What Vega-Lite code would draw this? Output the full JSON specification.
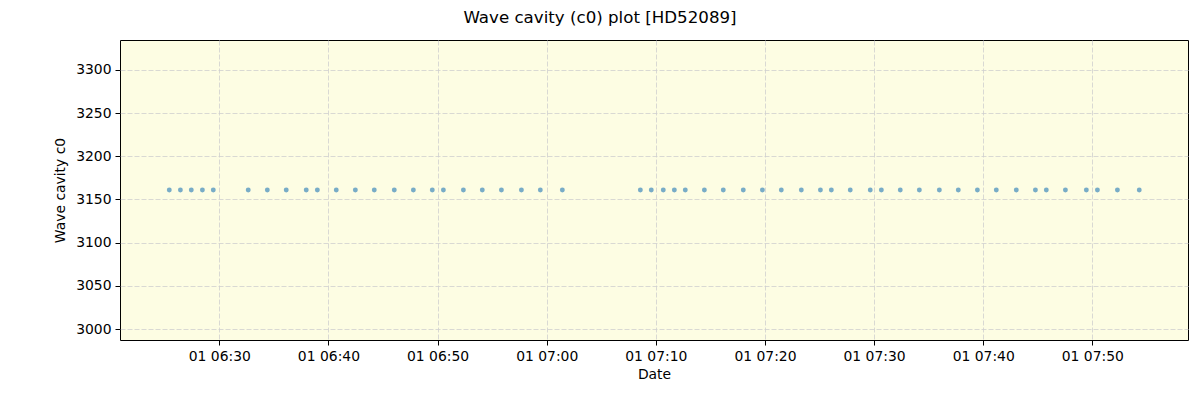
{
  "$schema": "https://vega.github.io/schema/vega-lite/v6.json",
  "width": 1068,
  "height": 300,
  "autosize": "none",
  "padding": {"left": 120, "top": 40, "right": 12, "bottom": 60},
  "background": "white",
  "title": {
    "text": "Wave cavity (c0) plot [HD52089]",
    "font": "DejaVu Sans",
    "fontSize": 16.67,
    "fontWeight": "normal",
    "color": "black",
    "anchor": "middle",
    "dx": -54,
    "offset": 13
  },
  "config": {
    "view": {"fill": "#fdfde3", "stroke": "black", "strokeWidth": 1},
    "axis": {
      "labelFont": "DejaVu Sans",
      "labelFontSize": 13.9,
      "labelColor": "black",
      "titleFont": "DejaVu Sans",
      "titleFontSize": 13.9,
      "titleFontWeight": "normal",
      "titleColor": "black",
      "tickColor": "black",
      "tickSize": 5,
      "domain": false,
      "grid": true,
      "gridColor": "#cfcfcf",
      "gridDash": [5, 2],
      "gridWidth": 0.8
    }
  },
  "data": {
    "values": [
      {"t": "2020-01-01T06:25:25Z", "c0": 3161},
      {"t": "2020-01-01T06:26:26Z", "c0": 3161},
      {"t": "2020-01-01T06:27:26Z", "c0": 3161},
      {"t": "2020-01-01T06:28:27Z", "c0": 3161},
      {"t": "2020-01-01T06:29:27Z", "c0": 3161},
      {"t": "2020-01-01T06:32:39Z", "c0": 3161},
      {"t": "2020-01-01T06:34:24Z", "c0": 3161},
      {"t": "2020-01-01T06:36:08Z", "c0": 3161},
      {"t": "2020-01-01T06:37:58Z", "c0": 3161},
      {"t": "2020-01-01T06:38:59Z", "c0": 3161},
      {"t": "2020-01-01T06:40:43Z", "c0": 3161},
      {"t": "2020-01-01T06:42:28Z", "c0": 3161},
      {"t": "2020-01-01T06:44:12Z", "c0": 3161},
      {"t": "2020-01-01T06:46:02Z", "c0": 3161},
      {"t": "2020-01-01T06:47:47Z", "c0": 3161},
      {"t": "2020-01-01T06:49:31Z", "c0": 3161},
      {"t": "2020-01-01T06:50:32Z", "c0": 3161},
      {"t": "2020-01-01T06:52:22Z", "c0": 3161},
      {"t": "2020-01-01T06:54:06Z", "c0": 3161},
      {"t": "2020-01-01T06:55:51Z", "c0": 3161},
      {"t": "2020-01-01T06:57:41Z", "c0": 3161},
      {"t": "2020-01-01T06:59:25Z", "c0": 3161},
      {"t": "2020-01-01T07:01:26Z", "c0": 3161},
      {"t": "2020-01-01T07:08:35Z", "c0": 3161},
      {"t": "2020-01-01T07:09:35Z", "c0": 3161},
      {"t": "2020-01-01T07:10:41Z", "c0": 3161},
      {"t": "2020-01-01T07:11:42Z", "c0": 3161},
      {"t": "2020-01-01T07:12:42Z", "c0": 3161},
      {"t": "2020-01-01T07:14:27Z", "c0": 3161},
      {"t": "2020-01-01T07:16:11Z", "c0": 3161},
      {"t": "2020-01-01T07:18:01Z", "c0": 3161},
      {"t": "2020-01-01T07:19:46Z", "c0": 3161},
      {"t": "2020-01-01T07:21:30Z", "c0": 3161},
      {"t": "2020-01-01T07:23:20Z", "c0": 3161},
      {"t": "2020-01-01T07:25:05Z", "c0": 3161},
      {"t": "2020-01-01T07:26:05Z", "c0": 3161},
      {"t": "2020-01-01T07:27:49Z", "c0": 3161},
      {"t": "2020-01-01T07:29:39Z", "c0": 3161},
      {"t": "2020-01-01T07:30:40Z", "c0": 3161},
      {"t": "2020-01-01T07:32:24Z", "c0": 3161},
      {"t": "2020-01-01T07:34:09Z", "c0": 3161},
      {"t": "2020-01-01T07:35:59Z", "c0": 3161},
      {"t": "2020-01-01T07:37:43Z", "c0": 3161},
      {"t": "2020-01-01T07:39:28Z", "c0": 3161},
      {"t": "2020-01-01T07:41:12Z", "c0": 3161},
      {"t": "2020-01-01T07:43:02Z", "c0": 3161},
      {"t": "2020-01-01T07:44:47Z", "c0": 3161},
      {"t": "2020-01-01T07:45:47Z", "c0": 3161},
      {"t": "2020-01-01T07:47:32Z", "c0": 3161},
      {"t": "2020-01-01T07:49:27Z", "c0": 3161},
      {"t": "2020-01-01T07:50:28Z", "c0": 3161},
      {"t": "2020-01-01T07:52:18Z", "c0": 3161},
      {"t": "2020-01-01T07:54:18Z", "c0": 3161}
    ]
  },
  "mark": {"type": "point", "filled": true, "size": 24, "color": "#1f77b4", "opacity": 0.6},
  "encoding": {
    "x": {
      "field": "t",
      "type": "temporal",
      "title": "Date",
      "scale": {"type": "utc", "domain": ["2020-01-01T06:20:54Z", "2020-01-01T07:58:46Z"], "nice": false},
      "axis": {
        "labelExpr": "utcFormat(datum.value, '%d %H:%M')",
        "values": [
          "2020-01-01T06:30:00Z", "2020-01-01T06:40:00Z", "2020-01-01T06:50:00Z",
          "2020-01-01T07:00:00Z", "2020-01-01T07:10:00Z", "2020-01-01T07:20:00Z",
          "2020-01-01T07:30:00Z", "2020-01-01T07:40:00Z", "2020-01-01T07:50:00Z"
        ],
        "labelPadding": 4,
        "titlePadding": 5
      }
    },
    "y": {
      "field": "c0",
      "type": "quantitative",
      "title": "Wave cavity c0",
      "scale": {"domain": [2987.3, 3334.7], "nice": false, "zero": false},
      "axis": {
        "values": [3000, 3050, 3100, 3150, 3200, 3250, 3300],
        "format": "d",
        "labelPadding": 4,
        "titlePadding": 8
      }
    }
  }
}
